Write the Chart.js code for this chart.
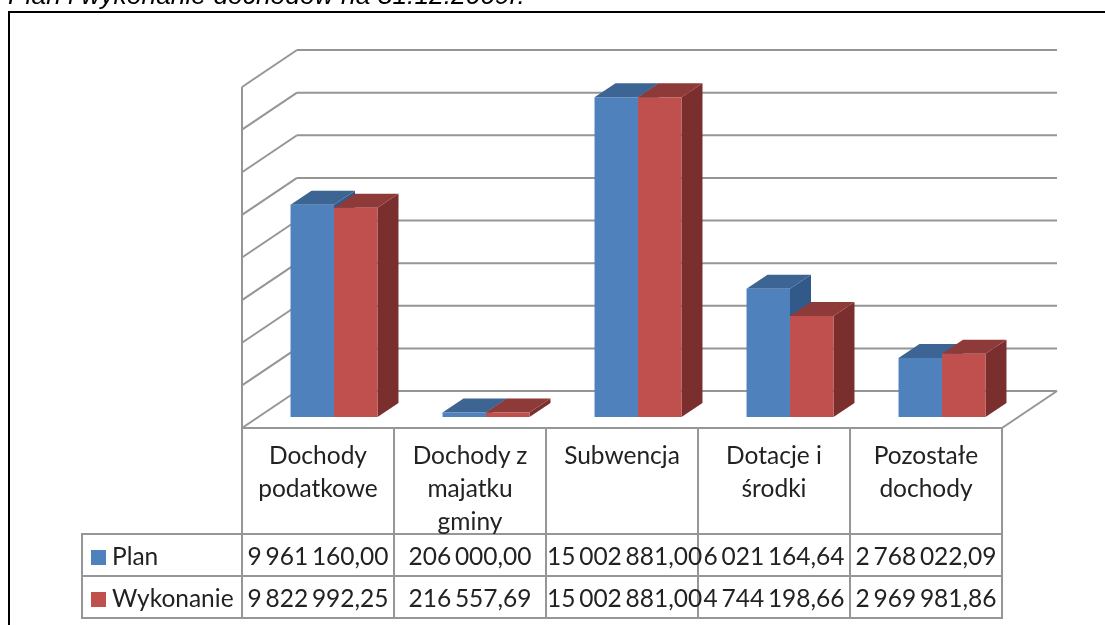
<!DOCTYPE html>
<html>
<head>
<meta charset="utf-8">
<title>Plan i wykonanie dochodów</title>
<script src="https://cdn.jsdelivr.net/npm/chart.js@4"></script>
<style>
    html, body { margin: 0; padding: 0; background: #fff; overflow: hidden; width: 1105px; height: 625px; }
    #heading { position: absolute; left: 8px; top: -20px; font: italic 26.4px/30px "Liberation Sans", sans-serif; color: #000; white-space: nowrap; filter: blur(0.3px); }
    #frame { position: absolute; left: 8px; top: 11px; width: 1200px; height: 800px; border: 2px solid #000; box-sizing: border-box; }
    #chart { position: absolute; left: 0; top: 0; filter: blur(0.4px); }
    #dataTable { position: absolute; left: 81px; top: 427px; border-collapse: collapse; table-layout: fixed; width: 922px; font: 24.5px/33px Lato, sans-serif; color: #222; filter: blur(0.35px); }
    #dataTable td { border: 2px solid #969696; padding: 0; text-align: center; white-space: nowrap; height: 40px; word-spacing: -2.5px; }
    #dataTable .head td { height: 104px; vertical-align: top; word-spacing: 0; }
    #dataTable .head td div { height: 104px; padding-top: 9px; box-sizing: border-box; overflow: visible; }
    #dataTable td.empty { border: none; border-right: 2px solid #969696; border-bottom: 2px solid #969696; }
    #dataTable td.series { text-align: left; padding-left: 8px; word-spacing: 0; }
    .swatch { display: inline-block; width: 15px; height: 15px; margin-right: 6px; }
</style>
</head>
<body>
<div id="heading"></div>
<div id="frame"></div>
<canvas id="chart" width="1105" height="625"></canvas>
<table id="dataTable"></table>
<script>
const headingText = 'Plan i wykonanie dochodów na 31.12.2009r.';
const categories = ['Dochody podatkowe', 'Dochody z majatku gminy', 'Subwencja', 'Dotacje i środki', 'Pozostałe dochody'];
const categoryLines = [['Dochody', 'podatkowe'], ['Dochody z', 'majatku', 'gminy'], ['Subwencja'], ['Dotacje i', 'środki'], ['Pozostałe', 'dochody']];
const planValues = [9961160.00, 206000.00, 15002881.00, 6021164.64, 2768022.09];
const wykonanieValues = [9822992.25, 216557.69, 15002881.00, 4744198.66, 2969981.86];
const axisTicks = [0, 2000000, 4000000, 6000000, 8000000, 10000000, 12000000, 14000000, 16000000];

const colors = {
    plan: { front: '#4f81bd', top: '#3d6593', side: '#31598a' },
    wykonanie: { front: '#c0504d', top: '#8e3a38', side: '#7a2f2e' }
};
const gridColor = '#959595';

// Offsets of the fake 3D box, relative to the plane the bars stand on
const floorFront = { x: -16, y: 11 };
const floorBack = { x: 39, y: -26 };
const barDepth = { x: 21, y: -14 };

const fmt = (n) => n.toFixed(2).replace('.', ',').replace(/\B(?=(\d{3})+(?!\d))/g, ' ');

function line(ctx, x1, y1, x2, y2) {
    ctx.beginPath();
    ctx.moveTo(x1, y1);
    ctx.lineTo(x2, y2);
    ctx.stroke();
}

function poly(ctx, pts, fill) {
    ctx.fillStyle = fill;
    ctx.beginPath();
    pts.forEach((p, i) => i ? ctx.lineTo(p[0], p[1]) : ctx.moveTo(p[0], p[1]));
    ctx.closePath();
    ctx.fill();
}

// Draws the walls and the top and side of every bar, the library draws the fronts over them
const box3d = {
    id: 'box3d',
    beforeDatasetsDraw(chart) {
        const { ctx, chartArea, scales } = chart;
        const left = chartArea.left, right = chartArea.right;
        ctx.save();
        ctx.strokeStyle = gridColor;
        ctx.lineWidth = 2;

        axisTicks.forEach((t) => {
            const y = scales.y.getPixelForValue(t);
            line(ctx, left + floorFront.x, y + floorFront.y, left + floorBack.x, y + floorBack.y);
            line(ctx, left + floorBack.x, y + floorBack.y, right + floorBack.x, y + floorBack.y);
        });
        const y0 = scales.y.getPixelForValue(0);
        const yMax = scales.y.getPixelForValue(axisTicks[axisTicks.length - 1]);
        line(ctx, left + floorFront.x, yMax + floorFront.y, left + floorFront.x, y0 + floorFront.y);
        line(ctx, right + floorFront.x, y0 + floorFront.y, right + floorBack.x, y0 + floorBack.y);

        [colors.plan, colors.wykonanie].forEach((c, i) => {
            chart.getDatasetMeta(i).data.forEach((bar) => {
                const x1 = bar.x - bar.width / 2, x2 = bar.x + bar.width / 2;
                const dx = barDepth.x, dy = barDepth.y;
                poly(ctx, [[x2, bar.y], [x2 + dx, bar.y + dy], [x2 + dx, bar.base + dy], [x2, bar.base]], c.side);
                poly(ctx, [[x1, bar.y], [x1 + dx, bar.y + dy], [x2 + dx, bar.y + dy], [x2, bar.y]], c.top);
            });
        });
        ctx.restore();
    }
};

new Chart(document.getElementById('chart').getContext('2d'), {
    type: 'bar',
    data: {
        labels: categories,
        datasets: [
            { label: 'Plan', data: planValues, backgroundColor: colors.plan.front, borderWidth: 0 },
            { label: 'Wykonanie', data: wykonanieValues, backgroundColor: colors.wykonanie.front, borderWidth: 0 }
        ]
    },
    options: {
        responsive: false,
        animation: false,
        layout: { padding: { left: 258, right: 87, top: 76, bottom: 208 } },
        datasets: { bar: { categoryPercentage: 0.572, barPercentage: 1 } },
        plugins: { legend: { display: false }, tooltip: { enabled: false }, title: { display: false } },
        scales: {
            x: { display: false },
            y: { display: false, min: 0, max: 16000000, ticks: { stepSize: 2000000 } }
        }
    },
    plugins: [box3d]
});

// Data table under the chart
document.getElementById('heading').textContent = headingText;

function buildTable() {
    const cols = '<colgroup><col style="width:160px">' + categories.map(() => '<col style="width:152px">').join('') + '</colgroup>';
    const head = '<tr class="head"><td class="empty"></td>' + categoryLines.map((l) => '<td><div>' + l.join('<br>') + '</div></td>').join('') + '</tr>';
    const row = (name, color, values) => '<tr><td class="series"><span class="swatch" style="background:' + color + '"></span>' + name + '</td>'
        + values.map((v) => '<td>' + fmt(v) + '</td>').join('') + '</tr>';
    document.getElementById('dataTable').innerHTML = cols + head
        + row('Plan', colors.plan.front, planValues)
        + row('Wykonanie', colors.wykonanie.front, wykonanieValues);
}
buildTable();
</script>
</body>
</html>
